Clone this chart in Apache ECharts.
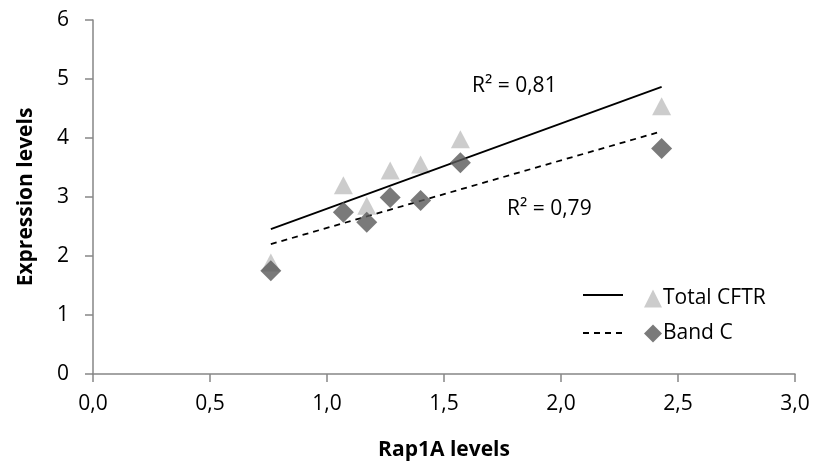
<!DOCTYPE html>
<html>
<head>
<meta charset="utf-8">
<script src="https://cdn.jsdelivr.net/npm/echarts@6/dist/echarts.min.js"></script>
<style>
  html, body { margin: 0; padding: 0; background: #fff; }
  #chart { width: 815px; height: 464px; }
</style>
</head>
<body>
<div id="chart"></div>
<script>
// Rap1A levels per sample (x) and the matching expression levels (y)
const rap1a      = [0.76, 1.07, 1.17, 1.27, 1.40, 1.57, 2.43];
const totalCFTR  = [1.89, 3.20, 2.85, 3.45, 3.55, 3.98, 4.54];
const bandC      = [1.75, 2.74, 2.57, 2.99, 2.94, 3.58, 3.82];
const xTicks     = [0, 0.5, 1, 1.5, 2, 2.5, 3];
const yTicks     = [0, 1, 2, 3, 4, 5, 6];
const r2Labels   = ['R² = 0,81', 'R² = 0,79'];

const FONT = '"Open Sans", Calibri, sans-serif';

// least-squares line through the points, drawn across the observed x range
function trend(xs, ys) {
  const n = xs.length;
  const mx = xs.reduce((a, b) => a + b, 0) / n;
  const my = ys.reduce((a, b) => a + b, 0) / n;
  let sxy = 0, sxx = 0;
  for (let i = 0; i < n; i++) {
    sxy += (xs[i] - mx) * (ys[i] - my);
    sxx += (xs[i] - mx) * (xs[i] - mx);
  }
  const k = sxy / sxx, b = my - k * mx;
  const x0 = Math.min(...xs), x1 = Math.max(...xs);
  return [[x0, k * x0 + b], [x1, k * x1 + b]];
}

const pairs = ys => rap1a.map((x, i) => [x, ys[i]]);

const chart = echarts.init(document.getElementById('chart'));
chart.setOption({
  animation: false,
  backgroundColor: '#fff',
  grid: {
    left: 93, right: 20, top: 20, bottom: 90,
    containLabel: false, outerBoundsMode: 'none'
  },
  xAxis: {
    type: 'value', min: xTicks[0], max: xTicks[xTicks.length - 1], interval: 0.5,
    name: 'Rap1A levels', nameLocation: 'middle', nameGap: 66,
    nameTextStyle: { fontFamily: FONT, fontSize: 21, fontWeight: 'bold', color: '#000' },
    axisLine: { lineStyle: { color: '#868686', width: 1.5 } },
    axisTick: { show: true, length: 8, lineStyle: { color: '#868686', width: 1.5 } },
    splitLine: { show: false },
    axisLabel: {
      fontFamily: FONT, fontSize: 21, color: '#000', margin: 20,
      formatter: v => v.toFixed(1).replace('.', ',')
    }
  },
  yAxis: {
    type: 'value', min: yTicks[0], max: yTicks[yTicks.length - 1], interval: 1,
    name: 'Expression levels', nameLocation: 'middle', nameGap: 56, nameRotate: 90,
    nameTextStyle: { fontFamily: FONT, fontSize: 21, fontWeight: 'bold', color: '#000' },
    axisLine: { show: true, lineStyle: { color: '#868686', width: 1.5 } },
    axisTick: { show: true, length: 8, lineStyle: { color: '#868686', width: 1.5 } },
    splitLine: { show: false },
    axisLabel: { fontFamily: FONT, fontSize: 21, color: '#000', margin: 24 }
  },
  legend: {
    orient: 'vertical', left: 639, top: 283, itemGap: 14,
    itemWidth: 18, itemHeight: 18,
    textStyle: { fontFamily: FONT, fontSize: 21, color: '#000', padding: [0, 0, 0, -4] },
    data: ['Total CFTR', 'Band C']
  },
  series: [
    {
      name: 'Total CFTR trend', type: 'line', data: trend(rap1a, totalCFTR),
      symbol: 'none', lineStyle: { color: '#000', width: 1.8 }, z: 3
    },
    {
      name: 'Band C trend', type: 'line', data: trend(rap1a, bandC),
      symbol: 'none', lineStyle: { color: '#000', width: 1.8, type: [6, 5] }, z: 3
    },
    {
      name: 'Total CFTR', type: 'scatter', data: pairs(totalCFTR),
      symbol: 'triangle', symbolSize: [19, 18],
      itemStyle: { color: '#bfbfbf' }, z: 2
    },
    {
      name: 'Band C', type: 'scatter', data: pairs(bandC),
      symbol: 'diamond', symbolSize: [21, 21],
      itemStyle: { color: '#595959' }, z: 4
    }
  ],
  graphic: [
    { type: 'line', shape: { x1: 583, y1: 295, x2: 623, y2: 295 },
      style: { stroke: '#000', lineWidth: 1.8 } },
    { type: 'line', shape: { x1: 583, y1: 333, x2: 623, y2: 333 },
      style: { stroke: '#000', lineWidth: 1.8, lineDash: [6, 5] } },
    { type: 'text', left: 472, top: 76,
      style: { text: r2Labels[0], font: '21px ' + FONT, fill: '#000' } },
    { type: 'text', left: 507, top: 199,
      style: { text: r2Labels[1], font: '21px ' + FONT, fill: '#000' } }
  ]
});
</script>
</body>
</html>
